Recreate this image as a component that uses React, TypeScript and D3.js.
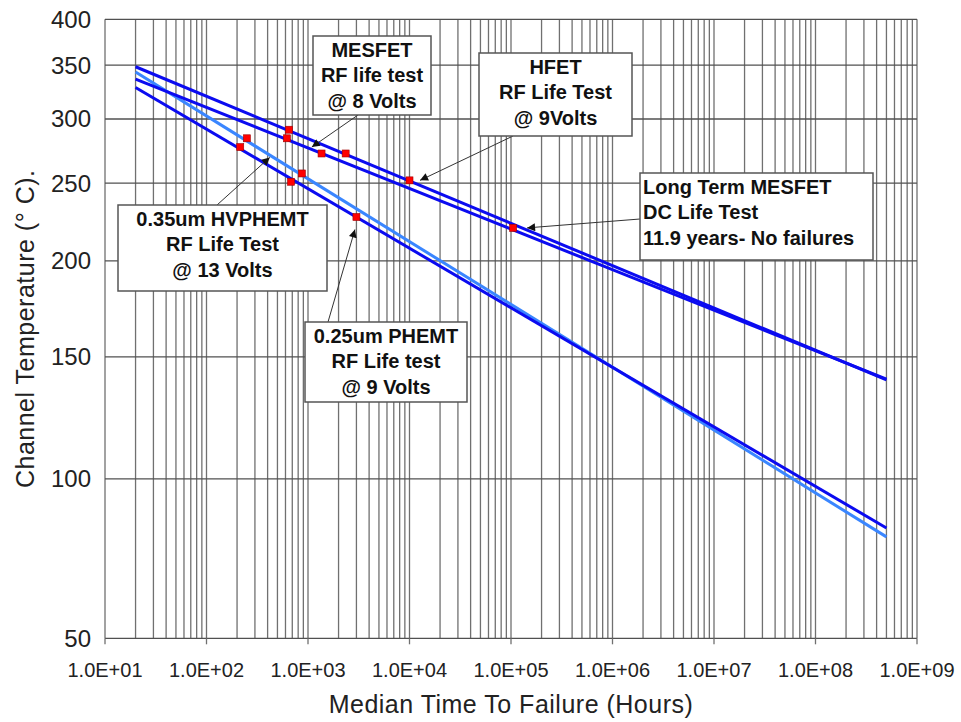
import * as d3 from 'd3';
import { useEffect, useRef } from 'react';

// Arrhenius plot: log time vs 1/T
const hoursRange = [20, 5e8];

const seriesNames = ['HFET', 'MESFET', 'HVPHEMT', 'PHEMT'];
const seriesColors = ['#0b0bf0', '#0b0bf0', '#3a86ff', '#0b0bf0'];
// fitted line temperatures (deg C) at 20 h and 5e8 h
const lineStartTemps = [348.4, 336.3, 343.1, 328.2];
const lineEndTemps = [139.6, 139.9, 80.1, 83.0];

// measured failure points
const hfetHours = [650, 2350, 10000];
const hfetTemps = [291, 272, 252];
const mesfetHours = [620, 1360, 105000];
const mesfetTemps = [284, 272, 220];
const hvphemtHours = [250, 870];
const hvphemtTemps = [284, 257];
const phemtHours = [215, 680, 3000];
const phemtTemps = [277, 251, 227];

const xTickValues = [1e1, 1e2, 1e3, 1e4, 1e5, 1e6, 1e7, 1e8, 1e9];
const xTickLabels = ['1.0E+01', '1.0E+02', '1.0E+03', '1.0E+04', '1.0E+05', '1.0E+06', '1.0E+07', '1.0E+08', '1.0E+09'];
const yTickValues = [400, 350, 300, 250, 200, 150, 100, 50];

const noteLines = [
  ['MESFET', 'RF life test', '@ 8 Volts'],
  ['HFET', 'RF Life Test', '@ 9Volts'],
  ['Long Term MESFET', 'DC Life Test', '11.9 years- No failures'],
  ['0.35um HVPHEMT', 'RF Life Test', '@ 13 Volts'],
  ['0.25um PHEMT', 'RF Life test', '@ 9 Volts'],
];
const noteTipHours = [1090, 12700, 144000, 420, 2900];
const noteTipTemps = [277, 252, 220, 269, 219];

const W = 961;
const H = 722;
const FONT = 'Arial, "Liberation Sans", sans-serif';

export default function App() {
  const svgRef = useRef<SVGSVGElement>(null);

  useEffect(() => {
    if (!svgRef.current) return;
    const svg = d3.select(svgRef.current);
    svg.selectAll('*').remove();

    const left = 105;
    const right = 917;
    const top = 19.3;
    const bottom = 638.3;

    const x = d3.scaleLog().domain([10, 1e9]).range([left, right]);
    const inv = (t: number) => 1 / (t + 273.15);
    const yInv = d3.scaleLinear().domain([inv(400), inv(50)]).range([top, bottom]);
    const y = (t: number) => yInv(inv(t));

    svg.append('rect').attr('width', W).attr('height', H).attr('fill', '#fff');

    // vertical grid (log minor + major)
    const vGrid: number[] = [];
    for (let k = 1; k < 9; k++) {
      for (let m = 1; m < 10; m++) vGrid.push(m * Math.pow(10, k));
    }
    vGrid.push(1e9);
    svg.append('g')
      .selectAll('line')
      .data(vGrid)
      .join('line')
      .attr('x1', (d) => x(d))
      .attr('x2', (d) => x(d))
      .attr('y1', top)
      .attr('y2', bottom)
      .attr('stroke', '#707070')
      .attr('stroke-width', 1.3);

    // horizontal grid
    svg.append('g')
      .selectAll('line')
      .data(yTickValues)
      .join('line')
      .attr('x1', left)
      .attr('x2', right)
      .attr('y1', (d) => y(d))
      .attr('y2', (d) => y(d))
      .attr('stroke', '#505050')
      .attr('stroke-width', 1.3);

    // x tick marks
    svg.append('g')
      .selectAll('line')
      .data(xTickValues)
      .join('line')
      .attr('x1', (d) => x(d))
      .attr('x2', (d) => x(d))
      .attr('y1', bottom)
      .attr('y2', bottom + 6)
      .attr('stroke', '#707070')
      .attr('stroke-width', 1.3);

    // tick labels
    svg.append('g')
      .selectAll('text')
      .data(xTickValues)
      .join('text')
      .attr('x', (d) => x(d))
      .attr('y', 677)
      .attr('text-anchor', 'middle')
      .attr('font-family', FONT)
      .attr('font-size', 20)
      .attr('fill', '#222')
      .text((_, i) => xTickLabels[i]);

    svg.append('g')
      .selectAll('text')
      .data(yTickValues)
      .join('text')
      .attr('x', 91)
      .attr('y', (d) => y(d))
      .attr('dy', '0.35em')
      .attr('text-anchor', 'end')
      .attr('font-family', FONT)
      .attr('font-size', 24)
      .attr('fill', '#222')
      .text((d) => d);

    // axis titles
    svg.append('text')
      .attr('x', (left + right) / 2)
      .attr('y', 713)
      .attr('text-anchor', 'middle')
      .attr('font-family', FONT)
      .attr('font-size', 25)
      .attr('letter-spacing', 0.5)
      .attr('fill', '#222')
      .text('Median Time To Failure (Hours)');

    svg.append('text')
      .attr('transform', `translate(34,${(top + bottom) / 2}) rotate(-90)`)
      .attr('text-anchor', 'middle')
      .attr('font-family', FONT)
      .attr('font-size', 25)
      .attr('letter-spacing', 0.5)
      .attr('fill', '#222')
      .text('Channel Temperature (° C).');

    // fitted lines
    const line = d3.line<[number, number]>()
      .x((d) => x(d[0]))
      .y((d) => y(d[1]));
    const drawOrder = [2, 0, 1, 3];
    drawOrder.forEach((i) => {
      svg.append('path')
        .attr('class', seriesNames[i])
        .attr('d', line([
          [hoursRange[0], lineStartTemps[i]],
          [hoursRange[1], lineEndTemps[i]],
        ]))
        .attr('fill', 'none')
        .attr('stroke', seriesColors[i])
        .attr('stroke-width', 3);
    });

    // data points
    const pts: [number, number][] = [
      ...hfetHours.map((h, i) => [h, hfetTemps[i]] as [number, number]),
      ...mesfetHours.map((h, i) => [h, mesfetTemps[i]] as [number, number]),
      ...hvphemtHours.map((h, i) => [h, hvphemtTemps[i]] as [number, number]),
      ...phemtHours.map((h, i) => [h, phemtTemps[i]] as [number, number]),
    ];
    svg.append('g')
      .selectAll('rect')
      .data(pts)
      .join('rect')
      .attr('x', (d) => x(d[0]) - 3.5)
      .attr('y', (d) => y(d[1]) - 3.5)
      .attr('width', 7)
      .attr('height', 7)
      .attr('fill', '#ff0000')
      .attr('stroke', '#a00000')
      .attr('stroke-width', 0.6);

    // annotations
    const boxes = [
      { x: 313, y: 36, w: 118, h: 79, anchor: 'middle', fx: 358, fy: 115 },
      { x: 479, y: 53, w: 153, h: 83, anchor: 'middle', fx: 513, fy: 136 },
      { x: 640, y: 173, w: 233, h: 87, anchor: 'start', fx: 640, fy: 219 },
      { x: 118, y: 205, w: 209, h: 86, anchor: 'middle', fx: 217, fy: 205 },
      { x: 305, y: 322, w: 162, h: 80, anchor: 'middle', fx: 328, fy: 322 },
    ];

    svg.append('defs')
      .append('marker')
      .attr('id', 'head')
      .attr('viewBox', '0 0 10 10')
      .attr('refX', 10)
      .attr('refY', 5)
      .attr('markerWidth', 10)
      .attr('markerHeight', 8)
      .attr('markerUnits', 'userSpaceOnUse')
      .attr('orient', 'auto')
      .append('path')
      .attr('d', 'M0,0 L10,5 L0,10 z')
      .attr('fill', '#111');

    boxes.forEach((b, i) => {
      svg.append('line')
        .attr('x1', b.fx)
        .attr('y1', b.fy)
        .attr('x2', x(noteTipHours[i]))
        .attr('y2', y(noteTipTemps[i]))
        .attr('stroke', '#333')
        .attr('stroke-width', 1)
        .attr('marker-end', 'url(#head)');
    });

    boxes.forEach((b, i) => {
      const g = svg.append('g');
      g.append('rect')
        .attr('x', b.x)
        .attr('y', b.y)
        .attr('width', b.w)
        .attr('height', b.h)
        .attr('fill', '#fff')
        .attr('stroke', '#555')
        .attr('stroke-width', 1.5);
      const tx = b.anchor === 'start' ? b.x + 3 : b.x + b.w / 2;
      g.selectAll('text')
        .data(noteLines[i])
        .join('text')
        .attr('x', tx)
        .attr('y', (_, j) => b.y + 20.5 + j * 25.5)
        .attr('text-anchor', b.anchor)
        .attr('font-family', FONT)
        .attr('font-size', 20)
        .attr('font-weight', 'bold')
        .attr('fill', '#111')
        .text((d) => d);
    });
  }, []);

  return (
    <svg
      ref={svgRef}
      width={W}
      height={H}
      style={{ position: 'absolute', left: 0, top: 0 }}
    />
  );
}
